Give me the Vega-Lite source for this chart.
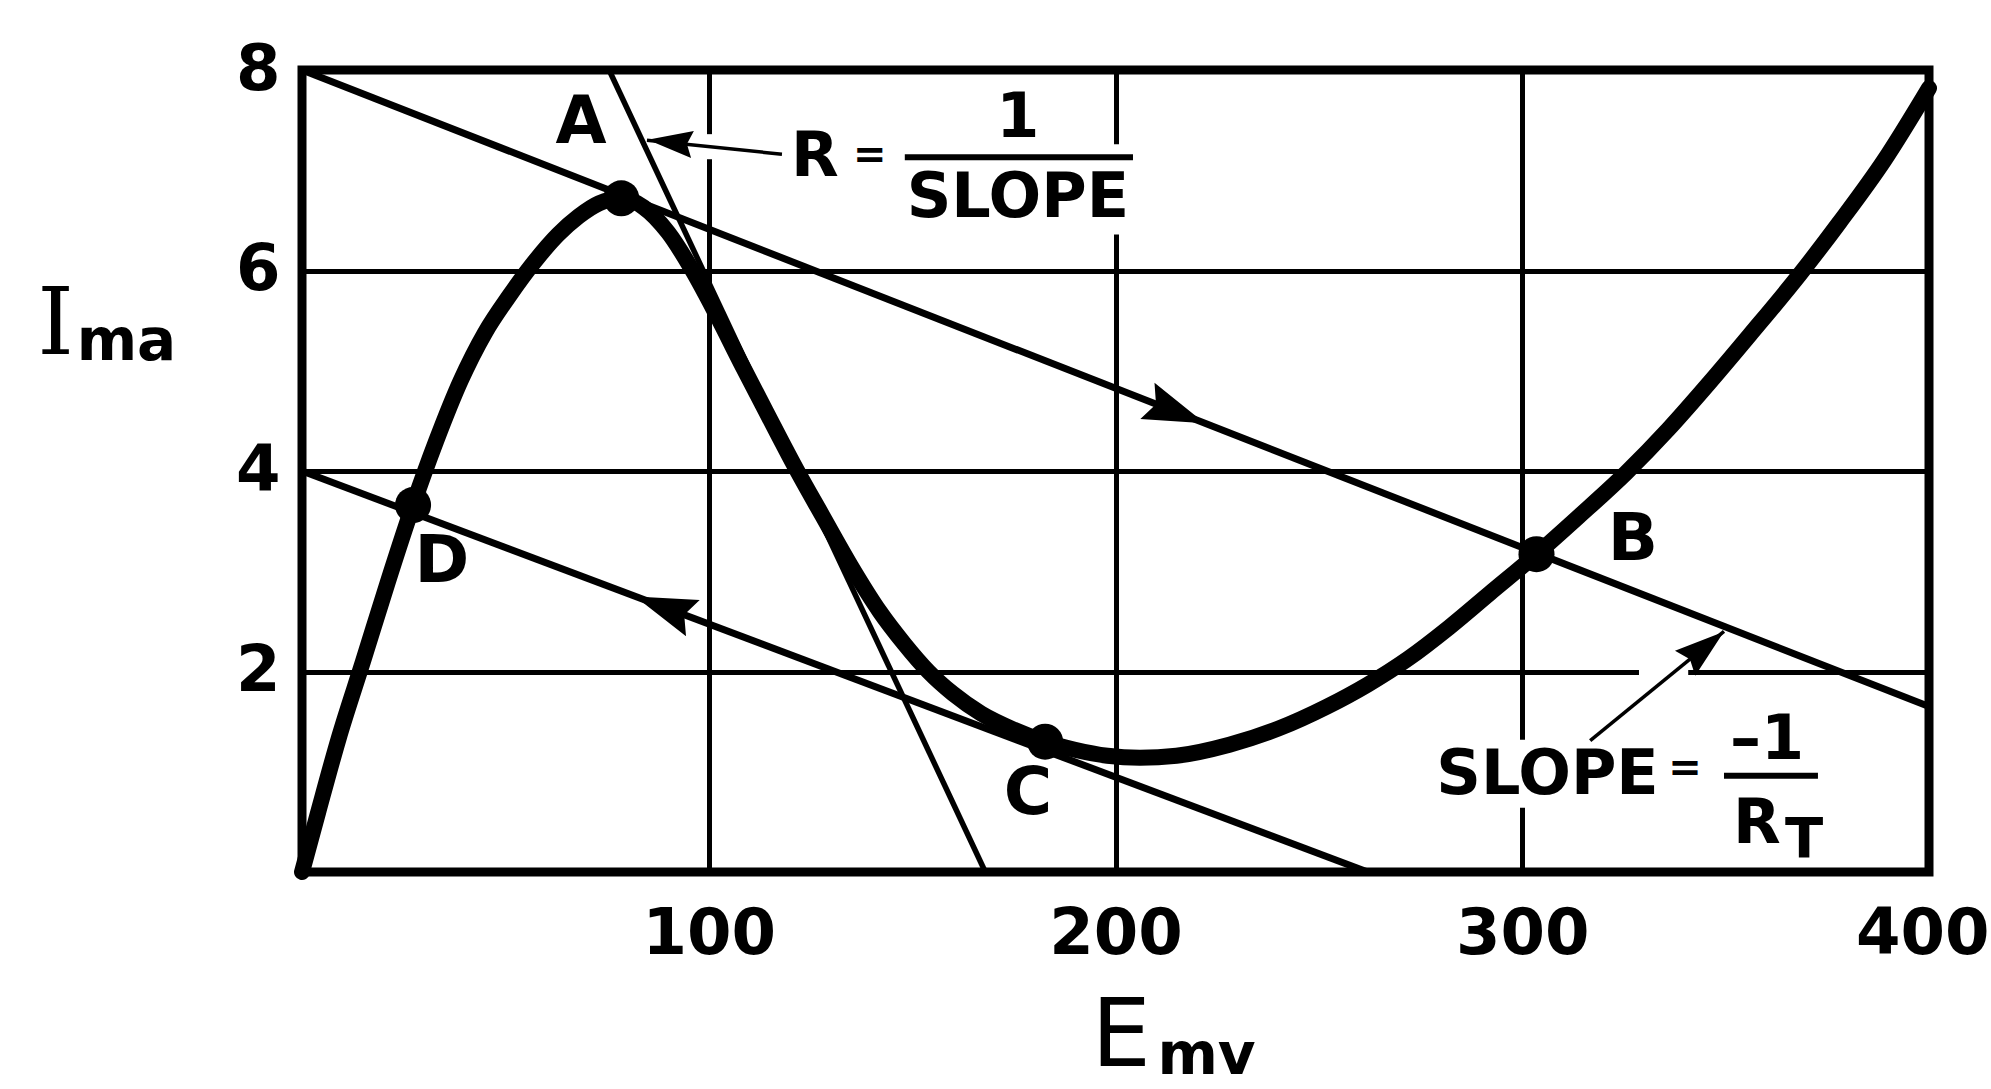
{
  "$schema": "https://vega.github.io/schema/vega-lite/v6.json",
  "width": 1627,
  "height": 802,
  "autosize": {"type": "none"},
  "padding": {"left": 302, "top": 70, "right": 62, "bottom": 217},
  "background": "white",
  "config": {
    "view": {"stroke": "black", "strokeWidth": 9, "fill": "white"},
    "axis": {
      "domain": false,
      "ticks": false,
      "grid": true,
      "gridColor": "black",
      "gridWidth": 5,
      "gridOpacity": 1,
      "labelFont": "DejaVu Sans",
      "labelFontWeight": "bold",
      "labelFontSize": 64,
      "labelColor": "black",
      "titleColor": "black"
    }
  },
  "datasets": {
    "curve": [
      {"E": 0, "I": 0}, {"E": 4, "I": 0.6}, {"E": 9, "I": 1.33}, {"E": 15, "I": 2.1},
      {"E": 21, "I": 2.88}, {"E": 27.3, "I": 3.66}, {"E": 33, "I": 4.3}, {"E": 39, "I": 4.9},
      {"E": 45, "I": 5.38}, {"E": 51, "I": 5.75}, {"E": 57, "I": 6.08}, {"E": 63, "I": 6.36},
      {"E": 68, "I": 6.54}, {"E": 73, "I": 6.67}, {"E": 78.5, "I": 6.72}, {"E": 84, "I": 6.63},
      {"E": 90, "I": 6.38}, {"E": 96, "I": 6.0}, {"E": 102, "I": 5.55}, {"E": 108, "I": 5.07},
      {"E": 114, "I": 4.6}, {"E": 121.5, "I": 4.02}, {"E": 128, "I": 3.55}, {"E": 135, "I": 3.05},
      {"E": 142, "I": 2.6}, {"E": 148, "I": 2.28}, {"E": 154, "I": 2.0}, {"E": 160, "I": 1.78},
      {"E": 167, "I": 1.58}, {"E": 175, "I": 1.42}, {"E": 182.7, "I": 1.3}, {"E": 190, "I": 1.22},
      {"E": 198, "I": 1.16}, {"E": 206, "I": 1.14}, {"E": 215, "I": 1.16}, {"E": 228, "I": 1.27},
      {"E": 240, "I": 1.43}, {"E": 252, "I": 1.65}, {"E": 262, "I": 1.87}, {"E": 272, "I": 2.13},
      {"E": 282, "I": 2.44}, {"E": 292, "I": 2.78}, {"E": 303.5, "I": 3.17}, {"E": 314, "I": 3.55},
      {"E": 325.5, "I": 3.98}, {"E": 336, "I": 4.42}, {"E": 346, "I": 4.88}, {"E": 356, "I": 5.36},
      {"E": 368, "I": 5.95}, {"E": 378, "I": 6.48}, {"E": 389, "I": 7.1}, {"E": 400, "I": 7.82}
    ],
    "segs": [
      {"kind": "load", "E": 0, "I": 8, "E2": 400, "I2": 1.65},
      {"kind": "load", "E": 0, "I": 4, "E2": 262, "I2": 0},
      {"kind": "tangent", "E": 75.5, "I": 8, "E2": 168, "I2": 0},
      {"kind": "shaft", "E": 84.8, "I": 7.3, "E2": 118, "I2": 7.16},
      {"kind": "shaft", "E": 349.6, "I": 2.4, "E2": 316.7, "I2": 1.31},
      {"kind": "bar", "E": 148.2, "I": 7.13, "E2": 204.3, "I2": 7.13},
      {"kind": "bar", "E": 349.6, "I": 0.96, "E2": 372.7, "I2": 0.96}
    ],
    "masks": [
      {"E": 195, "I": 6.36, "E2": 205, "I2": 7.26},
      {"E": 97, "I": 7.11, "E2": 103, "I2": 7.36},
      {"E": 297, "I": 0.64, "E2": 303, "I2": 1.32},
      {"E": 328.7, "I": 1.93, "E2": 340.8, "I2": 2.07}
    ],
    "dots": [
      {"name": "A", "E": 78.5, "I": 6.72},
      {"name": "B", "E": 303.5, "I": 3.17},
      {"name": "C", "E": 182.7, "I": 1.3},
      {"name": "D", "E": 27.3, "I": 3.66}
    ],
    "arrows": [
      {"kind": "fwd", "E": 214.9, "I": 4.588},
      {"kind": "back", "E": 89, "I": 2.641},
      {"kind": "r", "E": 90.5, "I": 7.28},
      {"kind": "s", "E": 344.8, "I": 2.24}
    ],
    "texts": [
      {"kind": "point", "text": "A", "E": 68.6, "I": 7.47},
      {"kind": "point", "text": "B", "E": 327.2, "I": 3.31},
      {"kind": "point", "text": "C", "E": 178.5, "I": 0.78},
      {"kind": "point", "text": "D", "E": 34.4, "I": 3.09},
      {"kind": "word", "text": "SLOPE", "E": 176.0, "I": 6.72},
      {"kind": "word", "text": "SLOPE", "E": 306.2, "I": 0.97},
      {"kind": "word", "text": "R", "E": 126.1, "I": 7.13},
      {"kind": "word", "text": "1", "E": 176.0, "I": 7.52},
      {"kind": "word", "text": "–1", "E": 360.2, "I": 1.32},
      {"kind": "word", "text": "R", "E": 357.7, "I": 0.48},
      {"kind": "eq", "text": "=", "E": 139.6, "I": 7.14},
      {"kind": "eq", "text": "=", "E": 340, "I": 1.03},
      {"kind": "sub", "text": "T", "E": 369.3, "I": 0.32},
      {"kind": "unit", "text": "ma", "E": -55.4, "I": 5.107},
      {"kind": "unit", "text": "mv", "E": 210.3, "I": -2.01}
    ]
  },
  "encoding": {
    "x": {
      "field": "E",
      "type": "quantitative",
      "scale": {"domain": [0, 400], "nice": false, "zero": false},
      "axis": {
        "values": [100, 200, 300, 400],
        "labelPadding": 30,
        "labelFlush": true,
        "labelFlushOffset": 60,
        "labelOverlap": false,
        "title": "E",
        "titleX": 789,
        "titleY": 193,
        "titleAlign": "left",
        "titleBaseline": "alphabetic",
        "titleFont": "DejaVu Sans",
        "titleFontSize": 94,
        "titleFontWeight": "normal"
      }
    },
    "y": {
      "field": "I",
      "type": "quantitative",
      "scale": {"domain": [0, 8], "nice": false, "zero": false},
      "axis": {
        "values": [2, 4, 6, 8],
        "labelPadding": 22,
        "labelFlush": false,
        "labelOverlap": false,
        "title": "I",
        "titleAngle": 0,
        "titleX": -247,
        "titleY": 283,
        "titleAlign": "center",
        "titleBaseline": "alphabetic",
        "titleFont": "DejaVu Serif",
        "titleFontSize": 93,
        "titleFontWeight": "normal"
      }
    }
  },
  "layer": [
    {
      "data": {"name": "masks"},
      "mark": {"type": "rect", "color": "white", "opacity": 1},
      "encoding": {"x2": {"field": "E2"}, "y2": {"field": "I2"}}
    },
    {
      "data": {"name": "segs"},
      "transform": [{"filter": "datum.kind == 'load'"}],
      "mark": {"type": "rule", "color": "black", "strokeWidth": 7},
      "encoding": {"x2": {"field": "E2"}, "y2": {"field": "I2"}}
    },
    {
      "data": {"name": "segs"},
      "transform": [{"filter": "datum.kind == 'tangent'"}],
      "mark": {"type": "rule", "color": "black", "strokeWidth": 5.5},
      "encoding": {"x2": {"field": "E2"}, "y2": {"field": "I2"}}
    },
    {
      "data": {"name": "curve"},
      "mark": {"type": "line", "color": "black", "strokeWidth": 16, "interpolate": "monotone", "strokeCap": "round", "strokeJoin": "round"},
      "encoding": {}
    },
    {
      "data": {"name": "dots"},
      "mark": {"type": "circle", "color": "black", "size": 1300, "opacity": 1}
    },
    {
      "data": {"name": "arrows"},
      "transform": [{"filter": "datum.kind == 'fwd'"}],
      "mark": {"type": "point", "shape": "M1,0L-1,-0.63L-0.7,0L-1,0.63Z", "filled": true, "color": "black", "opacity": 1, "size": 3800, "angle": 21.4}
    },
    {
      "data": {"name": "arrows"},
      "transform": [{"filter": "datum.kind == 'back'"}],
      "mark": {"type": "point", "shape": "M1,0L-1,-0.63L-0.7,0L-1,0.63Z", "filled": true, "color": "black", "opacity": 1, "size": 3800, "angle": 200.6}
    },
    {
      "data": {"name": "segs"},
      "transform": [{"filter": "datum.kind == 'shaft'"}],
      "mark": {"type": "rule", "color": "black", "strokeWidth": 3.5},
      "encoding": {"x2": {"field": "E2"}, "y2": {"field": "I2"}}
    },
    {
      "data": {"name": "arrows"},
      "transform": [{"filter": "datum.kind == 'r'"}],
      "mark": {"type": "point", "shape": "M1,0L-1,-0.6L-0.75,0L-1,0.6Z", "filled": true, "color": "black", "opacity": 1, "size": 2025, "angle": 185.9}
    },
    {
      "data": {"name": "arrows"},
      "transform": [{"filter": "datum.kind == 's'"}],
      "mark": {"type": "point", "shape": "M1,0L-1,-0.64L-0.75,0L-1,0.64Z", "filled": true, "color": "black", "opacity": 1, "size": 2500, "angle": 320.8}
    },
    {
      "data": {"name": "segs"},
      "transform": [{"filter": "datum.kind == 'bar'"}],
      "mark": {"type": "rule", "color": "black", "strokeWidth": 6},
      "encoding": {"x2": {"field": "E2"}, "y2": {"field": "I2"}}
    },
    {
      "data": {"name": "texts"},
      "transform": [{"filter": "datum.kind == 'point'"}],
      "mark": {"type": "text", "font": "DejaVu Sans", "fontWeight": "bold", "fontSize": 66, "color": "black", "align": "center", "baseline": "middle"},
      "encoding": {"text": {"field": "text"}}
    },
    {
      "data": {"name": "texts"},
      "transform": [{"filter": "datum.kind == 'word'"}],
      "mark": {"type": "text", "font": "DejaVu Sans", "fontWeight": "bold", "fontSize": 62, "color": "black", "align": "center", "baseline": "middle"},
      "encoding": {"text": {"field": "text"}}
    },
    {
      "data": {"name": "texts"},
      "transform": [{"filter": "datum.kind == 'eq'"}],
      "mark": {"type": "text", "font": "DejaVu Sans", "fontWeight": "bold", "fontSize": 40, "color": "black", "align": "center", "baseline": "middle"},
      "encoding": {"text": {"field": "text"}}
    },
    {
      "data": {"name": "texts"},
      "transform": [{"filter": "datum.kind == 'sub'"}],
      "mark": {"type": "text", "font": "DejaVu Sans", "fontWeight": "bold", "fontSize": 56, "color": "black", "align": "center", "baseline": "middle"},
      "encoding": {"text": {"field": "text"}}
    },
    {
      "data": {"name": "texts"},
      "transform": [{"filter": "datum.kind == 'unit'"}],
      "mark": {"type": "text", "font": "DejaVu Sans", "fontWeight": "bold", "fontSize": 58, "color": "black", "align": "left", "baseline": "alphabetic"},
      "encoding": {"text": {"field": "text"}}
    }
  ]
}
